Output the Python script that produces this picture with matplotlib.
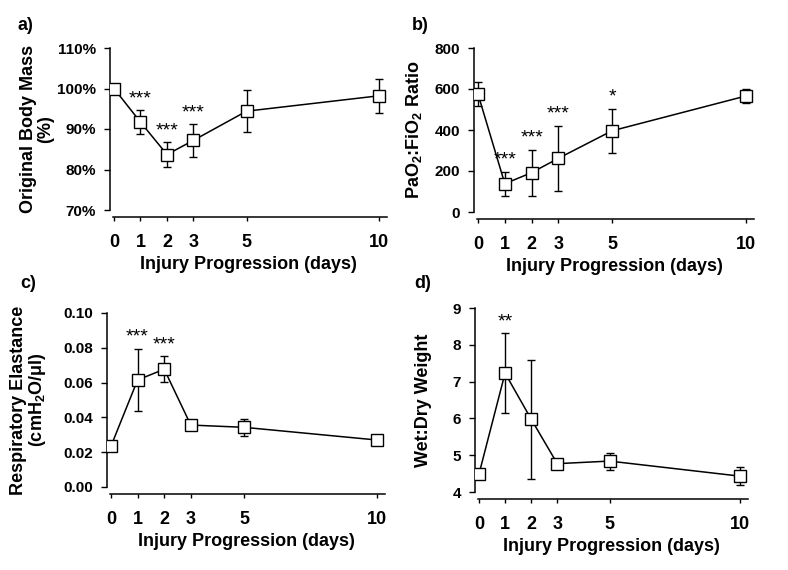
import matplotlib.pyplot as plt
from matplotlib.ticker import FuncFormatter

plt.rcParams['font.family'] = ['Liberation Sans', 'DejaVu Sans']
plt.rcParams['font.weight'] = 'bold'
plt.rcParams['axes.labelweight'] = 'bold'
plt.rcParams['mathtext.fontset'] = 'custom'
plt.rcParams['mathtext.rm'] = 'Liberation Sans:bold'
plt.rcParams['mathtext.it'] = 'Liberation Sans:bold'
plt.rcParams['mathtext.bf'] = 'Liberation Sans:bold'

# days after injury
days = [0, 1, 2, 3, 5, 10]
xticks = [0, 1, 2, 3, 5, 10]

# a) body mass (%)
mass_mean = [100, 91.7, 83.7, 87.2, 94.4, 98.2]
mass_err = [0, 3.0, 3.0, 4.0, 5.2, 4.2]
mass_stars = ['', '***', '***', '***', '', '']

# b) PaO2:FiO2
pf_mean = [575, 138, 192, 262, 396, 566]
pf_err = [58, 58, 112, 158, 107, 35]
pf_stars = ['', '***', '***', '***', '*', '']

# c) respiratory elastance
el_mean = [0.0235, 0.0615, 0.0677, 0.0356, 0.0343, 0.0270]
el_err = [0.0015, 0.018, 0.0074, 0.0015, 0.0048, 0.0015]
el_stars = ['', '***', '***', '', '', '']

# d) wet:dry weight
wd_mean = [4.48, 7.23, 5.98, 4.77, 4.84, 4.43]
wd_err = [0.1, 1.08, 1.62, 0.14, 0.23, 0.25]
wd_stars = ['', '**', '', '', '', '']

fig = plt.figure(figsize=(7.88, 5.70), dpi=100)

W, H = 788, 570
def box(l, r, b, t):
    return [l / W, 1 - b / H, (r - l) / W, (b - t) / H]

XMIN, XMAX = -0.15, 10.3


def panel(rect, mean, err, stars, ylim, yticks, fmt, ylabel, lpad):
    ax = fig.add_axes(rect)
    ax.errorbar(days, mean, yerr=err, color='black', lw=1.1, ecolor='black',
                elinewidth=1, capsize=3, capthick=1, marker='s', ms=8,
                mfc='white', mec='black', mew=1, zorder=3)
    for d, m, e, s in zip(days, mean, err, stars):
        if s:
            ax.annotate(s, (d, m + e), xytext=(0, 5), textcoords='offset points',
                        ha='center', va='baseline', fontsize=14, fontweight='normal')
    ax.set_xlim(XMIN, XMAX)
    ax.set_ylim(*ylim)
    ax.set_yticks(yticks)
    ax.yaxis.set_major_formatter(FuncFormatter(fmt))
    ax.set_xticks(xticks)
    ax.spines['top'].set_visible(False)
    ax.spines['right'].set_visible(False)
    ax.spines['bottom'].set_position(('outward', 5))
    ax.spines['bottom'].set_bounds(-0.02, XMAX)
    for sp in ax.spines.values():
        sp.set_linewidth(1.1)
    ax.tick_params(axis='y', direction='out', length=4, width=1, labelsize=11, pad=6)
    ax.tick_params(axis='x', direction='out', length=3, width=1, labelsize=13, pad=9)
    ax.set_xlabel('Injury Progression (days)', fontsize=13, fontweight='bold', labelpad=4)
    ax.set_ylabel(ylabel, fontsize=13, fontweight='bold', labelpad=lpad, linespacing=1.0)
    return ax


panel(box(110, 387, 210, 48), mass_mean, mass_err, mass_stars, (70, 110),
      [70, 80, 90, 100, 110], lambda v, p: '%d%%' % v,
      'Original Body Mass\n(%)', 2)
panel(box(474, 754, 212, 48), pf_mean, pf_err, pf_stars, (0, 800),
      [0, 200, 400, 600, 800], lambda v, p: '%d' % v,
      'PaO$_2$:FiO$_2$ Ratio', 8)
panel(box(107, 385, 487, 313), el_mean, el_err, el_stars, (0, 0.10),
      [0, 0.02, 0.04, 0.06, 0.08, 0.10], lambda v, p: '%.2f' % v,
      'Respiratory Elastance\n(cmH$_2$O/μl)', 11)
panel(box(475, 748, 492, 308), wd_mean, wd_err, wd_stars, (4, 9),
      [4, 5, 6, 7, 8, 9], lambda v, p: '%d' % v,
      'Wet:Dry Weight', 15)

for lbl, x, y in [('a)', 18, 25), ('b)', 412, 25), ('c)', 20, 283), ('d)', 414, 283)]:
    fig.text(x / W, 1 - y / H, lbl, fontsize=13, fontweight='bold', va='center')

fig.savefig('out.png', dpi=100)
